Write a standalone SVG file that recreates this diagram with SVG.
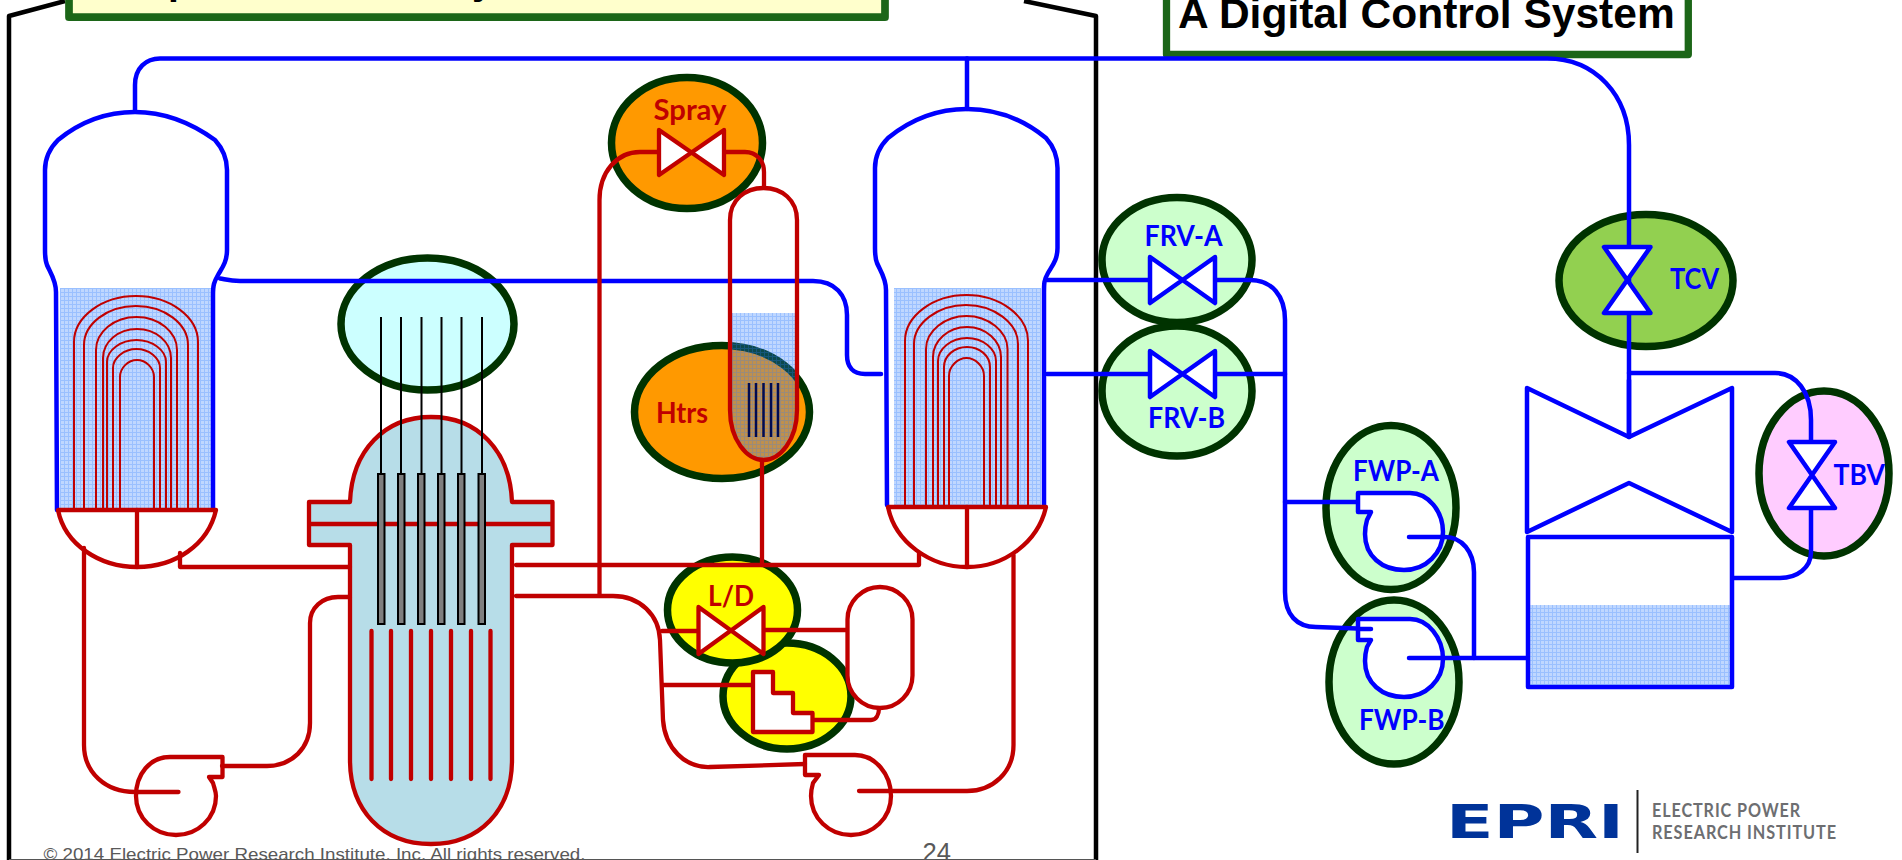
<svg xmlns="http://www.w3.org/2000/svg" width="1902" height="860" viewBox="0 0 1902 860">
<style>
.r{fill:none;stroke:#c00000;stroke-width:4.300;stroke-linejoin:round;stroke-linecap:round}
.rw{fill:#fff;stroke:#c00000;stroke-width:4.300;stroke-linejoin:round}
.rt{fill:none;stroke:#c00000;stroke-width:2}
.b{fill:none;stroke:#0000ff;stroke-width:4.500;stroke-linejoin:round;stroke-linecap:round}
.bw{fill:#fff;stroke:#0000ff;stroke-width:4.500;stroke-linejoin:round}
.ring{stroke:#003300;stroke-width:7.500}
.cr{stroke:#000;stroke-width:2}
.rod{fill:#7f7f7f;stroke:#000;stroke-width:2}
.lr{font-family:Lato,"Open Sans",sans-serif;font-weight:700;font-size:28px;fill:#c00000}
.lb{font-family:Lato,"Open Sans",sans-serif;font-weight:700;font-size:28px;fill:#0000ff}
.gr{font-family:"Liberation Sans",Arial,sans-serif;fill:#595959}
</style>
<defs>
<pattern id="w" width="4" height="4" patternUnits="userSpaceOnUse">
<rect width="4" height="4" fill="#2a7aff" opacity=".3"/>
<rect width="1" height="4" fill="#2a7aff" opacity=".25"/>
<rect x="1" width="3" height="1" fill="#2a7aff" opacity=".25"/>
</pattern>
</defs>
<rect width="1902" height="860" fill="#fff"/>
<g id="containment"><path d="M9,860V16L65,1M1024,1L1096,16V860" fill="none" stroke="#000" stroke-width="4.500" stroke-linejoin="round"/><path d="M9,859.500H1096" stroke="#555" stroke-width="1.200"/></g>
<g id="title-primary"><rect x="69" y="-40" width="816" height="57.200" fill="#ffffcc" stroke="#1c6618" stroke-width="7.700" stroke-linejoin="round"/>
<text x="168" y="-6" font-family="Liberation Sans,Arial,sans-serif" font-weight="700" font-size="39" fill="#000">p</text>
<text x="472" y="-6" font-family="Liberation Sans,Arial,sans-serif" font-weight="700" font-size="39" fill="#000">y</text></g>
<g id="title-digital"><rect x="1166.500" y="-20" width="521.800" height="74.500" fill="#fff" stroke="#1c6618" stroke-width="7.300" stroke-linejoin="round"/>
<text x="1178" y="28" font-family="Liberation Sans,Arial,sans-serif" font-weight="700" font-size="42.500" fill="#000">A Digital Control System</text></g>

<g id="crdm"><ellipse cx="427.500" cy="324" rx="86.500" ry="66" fill="#ccffff" class="ring"/></g>
<g id="rpv">
<path d="M350,502C352,450 385,417 431,417S510,450 512,502H552.500V545H512V760C512,810 480,844 431,844S350,810 350,760V545H309V502Z" fill="#b7dde8" stroke="#c00000" stroke-width="4.300" stroke-linejoin="round"/>
<path d="M309,524H552.500" stroke="#c00000" stroke-width="4.300"/>
<g class="cr"><path d="M381,317V474M401,317V474M421.500,317V474M441.500,317V474M461.500,317V474M482,317V474"/></g>
<rect class="rod" x="378" y="474" width="6.500" height="150"/><rect class="rod" x="398" y="474" width="6.500" height="150"/><rect class="rod" x="418" y="474" width="6.500" height="150"/><rect class="rod" x="438" y="474" width="6.500" height="150"/><rect class="rod" x="458" y="474" width="6.500" height="150"/><rect class="rod" x="478.500" y="474" width="6.500" height="150"/>
<path d="M371.500,631V779M391,631V779M411,631V779M431,631V779M451,631V779M471,631V779M490.500,631V779" class="r"/>
</g>

<g id="pressurizer-body"><path d="M730,220C730,200 745,188 763.500,188S797,200 797,220V410C797,440 780,460 763.500,460S730,440 730,410Z" fill="#fff"/></g>

<g id="sg-a">
<path class="b" d="M57,510L56,292C56,280 50,272 47,265C45,260 45,255 45,250V170C45,160 48,150 58,140C80,122 105,112 135,112C165,112 190,122 215,140C224,150 227,160 227,170V250C227,262 222,268 218,275C214,282 213,285 213,295V510"/>
<rect x="60" y="288" width="151" height="220" fill="url(#w)"/>
<path class="rt" d="M74,508V342C74,317 102,296 136,296S198,317 198,342V508"/>
<path class="rt" d="M84,508V345C84,324 107,306 136,306S188,324 188,345V508"/>
<path class="rt" d="M96,508V350C96,332 114,317 136.500,317S177,332 177,350V508"/>
<path class="rt" d="M103,508V358C103,342 118,329 137,329S171,342 171,358V508"/>
<path class="rt" d="M107,508V362C107,350 121,340 136.500,340S166,350 166,362V508"/>
<path class="rt" d="M113,508V368C113,358 124,349 136.500,349S160,358 160,368V508"/>
<path class="rt" d="M120,508V377C120,368 128,360 137,360S154,368 154,377V508"/>
<path class="rw" d="M58,510H216C208,545 175,567 137,567C100,567 65,545 58,510Z"/>
<path class="r" d="M137,510V567"/>
</g>
<g id="sg-b">
<path class="b" d="M887,505L886,290C886,278 880,270 877,263C875,258 875,253 875,248V168C875,158 878,148 888,138C910,120 937,109 967,109C997,109 1024,120 1046,138C1055,148 1057.500,158 1057.500,168V248C1057.500,260 1052,266 1048,273C1044,280 1044,283 1044,293V505"/>
<rect x="894" y="288" width="147" height="217" fill="url(#w)"/>
<path class="rt" d="M905,505V341C905,316 933,295 966.500,295S1028,316 1028,341V505"/>
<path class="rt" d="M914,505V344C914,323 938,305 966,305S1018,323 1018,344V505"/>
<path class="rt" d="M926,505V349C926,331 945,316 966.500,316S1007.500,331 1007.500,349V505"/>
<path class="rt" d="M933,505V357C933,341 948,327 967,327S1001,341 1001,357V505"/>
<path class="rt" d="M938,505V361C938,349 951,338 967,338S996,349 996,361V505"/>
<path class="rt" d="M944,505V367C944,356 954,347 967,347S990,356 990,367V505"/>
<path class="rt" d="M949,505V376C949,366 958,358 966.500,358S984,366 984,376V505"/>
<path class="rw" d="M888,507H1046C1038,542 1005,567 967,567C930,567 895,542 888,507Z"/>
<path class="r" d="M967,507V567"/>
</g>

<g id="spray"><ellipse cx="687" cy="143" rx="75.500" ry="65.500" fill="#ff9900" class="ring"/></g>
<g id="htrs"><ellipse cx="722" cy="412" rx="87.500" ry="66.500" fill="#ff9900" class="ring"/></g>
<g id="hx-ellipse"><ellipse cx="787" cy="696" rx="64" ry="53" fill="#ffff00" class="ring"/></g>
<g id="ld"><ellipse cx="732.500" cy="610" rx="65" ry="53" fill="#ffff00" class="ring"/></g>
<g id="frv-a"><ellipse cx="1177" cy="260" rx="75" ry="62.500" fill="#ccffcc" class="ring"/></g>
<g id="frv-b"><ellipse cx="1177" cy="391" rx="75" ry="65" fill="#ccffcc" class="ring"/></g>
<g id="fwp-a"><ellipse cx="1391" cy="507.500" rx="65" ry="82" fill="#ccffcc" class="ring"/></g>
<g id="fwp-b"><ellipse cx="1394" cy="682" rx="65" ry="82" fill="#ccffcc" class="ring"/></g>
<g id="tcv"><ellipse cx="1646" cy="280.500" rx="87" ry="66" fill="#92d050" class="ring"/></g>
<g id="tbv"><ellipse cx="1824" cy="473.500" rx="65" ry="82.500" fill="#ffccff" class="ring"/></g>

<g id="connectors">
<path class="b" d="M135,110V85C135,68 146,58.500 160,58.500H1547C1595,58.500 1629,95 1629,145V437"/>
<path class="b" d="M967,58.500V109"/>
<path class="b" d="M220,278.500C226,279.500 230,281 240,281H813C835,281 847,295 847,315V355C847,367 853,374 865,374H881"/>
<path class="b" d="M1047,280H1150M1215,280H1250C1272,280 1285,296 1285,320V592C1285,615 1297,627 1316,627L1371,629"/>
<path class="b" d="M1047,374H1150M1215,374H1285"/>
<path class="b" d="M1285,502H1358"/>
<path class="b" d="M1409,537H1445C1462,537 1474,552 1474,572V658"/>
<path class="b" d="M1409,658H1528"/>
<path class="b" d="M1629,373H1775C1796,373 1811,392 1811,420V442M1811,508V552C1811,568 1797,578 1780,578H1732"/>
<path class="r" d="M84,548V745C84,772 105,792 135,792H178.500"/>
<path class="r" d="M180,553V567H350"/>
<path class="r" d="M222,766H267C292,766 310,748 310,723V623C310,608 322,597 338,597H350"/>
<path class="r" d="M516,565H919V553"/>
<path class="r" d="M516,596H613C640,596 659,615 660,640L663,720C665,748 685,768 710,767L805,764"/>
<path class="r" d="M599.500,595V200C599.500,172 617,152 640,152H659M724,152H745C757,152 764,161 764,172V187"/>
<path class="r" d="M762,460V565"/>
<path class="r" d="M662,631H699M764,630H847"/>
<path class="r" d="M663,685H753"/>
<path class="r" d="M812.500,720H871C876,720 879,715 879,708"/>
<path class="r" d="M1013.500,555V745C1013.500,772 993,791 967,791H859"/>
</g>

<g id="pressurizer">
<path d="M732,313H797V410C797,440 780,460 763.500,460S732,440 732,410Z" fill="url(#w)"/>
<path d="M749,383V437M756,383V437M763.500,383V437M771,383V437M778,383V437" stroke="#000a50" stroke-width="2.500"/>
<path class="r" d="M730,220C730,200 745,188 763.500,188S797,200 797,220V410C797,440 780,460 763.500,460S730,440 730,410Z"/>
</g>
<g id="spray-valve"><path class="rw" d="M659,130L724,175V130L659,175Z"/></g>
<g id="ld-valve"><path class="rw" d="M698.500,607L763.500,654V607L698.500,654Z"/></g>
<g id="hx"><path class="rw" d="M753,672H773V693H793V713H812.500V732H753Z"/></g>
<g id="vct"><rect class="rw" x="847.500" y="587" width="65" height="121" rx="32.500" ry="32.500"/></g>
<g id="rcp-a"><path class="r" d="M170,757H222.500V777H209L213,783C215,790 216,792 216,796C216,818 198,835 176,835S136,818 136,796S150,757 170,757Z"/></g>
<g id="rcp-b"><path class="r" d="M855,755H805V775H819L813,783C811,790 811,792 811,796C811,818 829,835 851,835S891,818 891,796S875,755 855,755Z"/></g>
<g id="frv-a-valve"><path class="bw" d="M1150,257L1215,303V257L1150,303Z"/></g>
<g id="frv-b-valve"><path class="bw" d="M1150,351L1215,397V351L1150,397Z"/></g>
<g id="tcv-valve"><path class="bw" d="M1604,247H1650.500L1604,313H1650.500Z"/></g>
<g id="tbv-valve"><path class="bw" d="M1789,442H1835L1789,508H1835Z"/></g>
<g id="fwp-a-pump"><path class="b" d="M1410,493H1358V512H1371L1367,520C1365,527 1365,530 1365,534C1365,556 1382,570 1404,570S1443,553 1443,532S1428,493 1410,493Z" style="fill:#fff"/><path class="b" d="M1409,537H1443"/></g>
<g id="fwp-b-pump"><path class="b" d="M1410,619H1358V640H1371L1367,647C1365,654 1365,657 1365,661C1365,683 1382,697 1404,697S1443,680 1443,659S1428,619 1410,619Z" style="fill:#fff"/><path class="b" d="M1358,629H1371M1409,658H1443"/></g>
<g id="turbine"><path class="bw" d="M1527,388L1629,437L1732,388V532L1629,483L1527,532Z"/><path class="b" d="M1629,380V437"/></g>
<g id="condenser"><rect class="bw" x="1528" y="537" width="204" height="150"/><rect x="1530" y="605" width="200" height="80" fill="url(#w)"/></g>

<g id="labels">
<text class="lr" x="653.500" y="120" textLength="73" lengthAdjust="spacingAndGlyphs">Spray</text>
<text class="lr" x="656" y="423" textLength="52" lengthAdjust="spacingAndGlyphs">Htrs</text>
<text class="lr" x="708" y="606" textLength="46" lengthAdjust="spacingAndGlyphs">L/D</text>
<text class="lb" x="1144.500" y="245.500" textLength="78" lengthAdjust="spacingAndGlyphs">FRV-A</text>
<text class="lb" x="1148" y="428" textLength="77" lengthAdjust="spacingAndGlyphs">FRV-B</text>
<text class="lb" x="1353" y="481" textLength="86" lengthAdjust="spacingAndGlyphs">FWP-A</text>
<text class="lb" x="1359" y="730" textLength="85.500" lengthAdjust="spacingAndGlyphs">FWP-B</text>
<text class="lb" x="1670" y="289" textLength="49" lengthAdjust="spacingAndGlyphs">TCV</text>
<text class="lb" x="1833.500" y="485" textLength="51.500" lengthAdjust="spacingAndGlyphs">TBV</text>
<text class="gr" x="43.500" y="860" font-size="17" textLength="542" lengthAdjust="spacingAndGlyphs">© 2014 Electric Power Research Institute, Inc. All rights reserved.</text>
<text class="gr" x="922.500" y="861" font-size="25.600">24</text>
</g>
<g id="logo">
<text x="1446" y="838" font-family="DejaVu Sans,sans-serif" font-weight="700" font-size="46" fill="#003399" textLength="178" lengthAdjust="spacingAndGlyphs">EPRI</text>
<path d="M1637.500,790V853" stroke="#222" stroke-width="2"/>
<text x="1652" y="817" font-family="Lato,sans-serif" font-weight="700" font-size="18" letter-spacing="1" fill="#6d6e71" textLength="149" lengthAdjust="spacingAndGlyphs">ELECTRIC POWER</text>
<text x="1652" y="838.500" font-family="Lato,sans-serif" font-weight="700" font-size="18" letter-spacing="1" fill="#6d6e71" textLength="185" lengthAdjust="spacingAndGlyphs">RESEARCH INSTITUTE</text>
</g>
</svg>
